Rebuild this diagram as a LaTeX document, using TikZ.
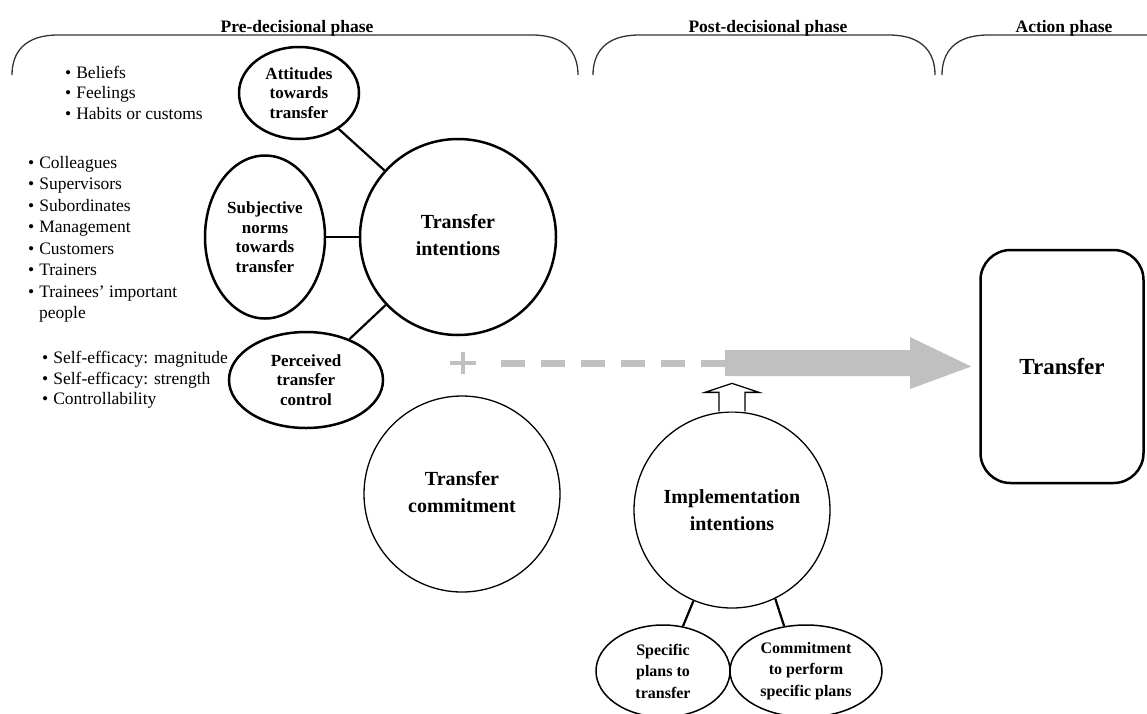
\documentclass[tikz,border=0pt]{standalone}
\usepackage{fontspec}
\setmainfont{Liberation Serif}
\usetikzlibrary{shapes.geometric}
\definecolor{arrowgray}{RGB}{192,192,192}
\begin{document}
\begin{tikzpicture}[x=1pt,y=-1pt,
  bul/.style={anchor=base west, inner sep=0pt, font=\fontsize{17.5}{21}\selectfont},
  lbl/.style={font=\bfseries\fontsize{17}{19.5}\selectfont, align=center},
  thickell/.style={draw, ellipse, line width=2.5pt, inner sep=0pt, lbl},
  bigcirc/.style={draw, circle, inner sep=0pt, minimum size=196pt, font=\bfseries\fontsize{20}{27}\selectfont, align=center},
  smallell/.style={draw, ellipse, line width=1.5pt, inner sep=0pt, font=\bfseries\fontsize{16}{21.5}\selectfont, align=center},
  phase/.style={font=\bfseries\fontsize{17.5}{20}\selectfont, anchor=base},
  bracket/.style={draw=black!80, line width=1.3pt},
  conn/.style={line width=2.2pt}]
\useasboundingbox (0,0) rectangle (1147,713);

% phase brackets
\draw[bracket] (12,75) .. controls (12,52) and (25,35) .. (58,35) -- (532,35) .. controls (565,35) and (578,52) .. (578,75);
\draw[bracket] (593,75) .. controls (593,52) and (606,35) .. (639,35) -- (889,35) .. controls (922,35) and (935,52) .. (935,75);
\draw[bracket] (942,75) .. controls (942,52) and (955,35) .. (988,35) -- (1147,35);
\node[phase] (pre) at (297,32) {Pre-decisional phase};
\node[phase] (post) at (768,32) {Post-decisional phase};
\node[phase] (act) at (1064,32) {Action phase};

% bullet lists
\node[bul] (b1) at (65,78) {•\hspace{5pt}Beliefs};
\node[bul] (b2) at (65,98.5) {•\hspace{5pt}Feelings};
\node[bul] (b3) at (65,119) {•\hspace{5pt}Habits or customs};
\node[bul] (c1) at (28,168) {•\hspace{5pt}Colleagues};
\node[bul] (c2) at (28,189.5) {•\hspace{5pt}Supervisors};
\node[bul] (c3) at (28,211) {•\hspace{5pt}Subordinates};
\node[bul] (c4) at (28,232.5) {•\hspace{5pt}Management};
\node[bul] (c5) at (28,254) {•\hspace{5pt}Customers};
\node[bul] (c6) at (28,275.5) {•\hspace{5pt}Trainers};
\node[bul] (c7) at (28,297) {•\hspace{5pt}Trainees’ important};
\node[bul] (c8) at (39,318) {people};
\node[bul] (d1) at (42,363) {•\hspace{5pt}Self-efficacy: magnitude};
\node[bul] (d2) at (42,384) {•\hspace{5pt}Self-efficacy: strength};
\node[bul] (d3) at (42,404.5) {•\hspace{5pt}Controllability};

% left ellipses and transfer intentions
\node[thickell, minimum width=120pt, minimum height=92pt] (att) at (299,93) {Attitudes\\towards\\transfer};
\node[thickell, minimum width=120pt, minimum height=163pt] (subj) at (265,237) {Subjective\\norms\\towards\\transfer};
\node[thickell, minimum width=154pt, minimum height=96pt] (perc) at (306,380) {Perceived\\transfer\\control};
\node[bigcirc, line width=2.5pt] (ti) at (458,237) {\raisebox{9pt}{\begin{tabular}{@{}c@{}}Transfer\\intentions\end{tabular}}};
\draw[conn] (att) -- (ti);
\draw[conn] (subj.east) -- (subj.east -| ti.west);
\draw[conn] (perc) -- (ti);

% commitment and implementation
\node[bigcirc, line width=1.3pt] (tc) at (462,494) {\raisebox{8pt}{\begin{tabular}{@{}c@{}}Transfer\\commitment\end{tabular}}};
\node[bigcirc, line width=1.3pt] (impl) at (732,510) {Implementation\\intentions};
\node[smallell, minimum width=134pt, minimum height=92pt] (spec) at (663,671) {Specific\\plans to\\transfer};
\node[smallell, minimum width=152pt, minimum height=92pt] (comm) at (806,671) {Commitment\\to perform\\specific plans};
\draw[conn] (impl.247) -- (spec.66);
\draw[conn] (impl.296) -- (comm.116);

% hollow arrow up
\draw[line width=1.3pt, line join=miter, fill=white] ([xshift=-13pt]impl.north) -- ++(0,-19) -- ++(-14,0) -- ++(27,-9) -- ++(27,9) -- ++(-14,0) -- ++(0,19);

% transfer box
\node[draw, rounded corners=30pt, line width=2.5pt, minimum width=163pt, minimum height=233pt, font=\bfseries\fontsize{23}{27}\selectfont] (box) at (1062,366.5) {Transfer};

% gray arrow
\coordinate (tip) at ([xshift=-8pt]box.west);
\coordinate (plus) at (463,363);
\draw[arrowgray, line width=3.5pt] ([xshift=-13pt]plus) -- ([xshift=13pt]plus) ([yshift=-11pt]plus) -- ([yshift=11pt]plus);
\draw[arrowgray, line width=7pt, dash pattern=on 24pt off 16pt] (501,363) -- (725,363);
\fill[arrowgray] (725,350) -- (910,350) -- (910,337) -- (tip) -- (910,389) -- (910,376) -- (725,376) -- cycle;
\end{tikzpicture}
\end{document}
